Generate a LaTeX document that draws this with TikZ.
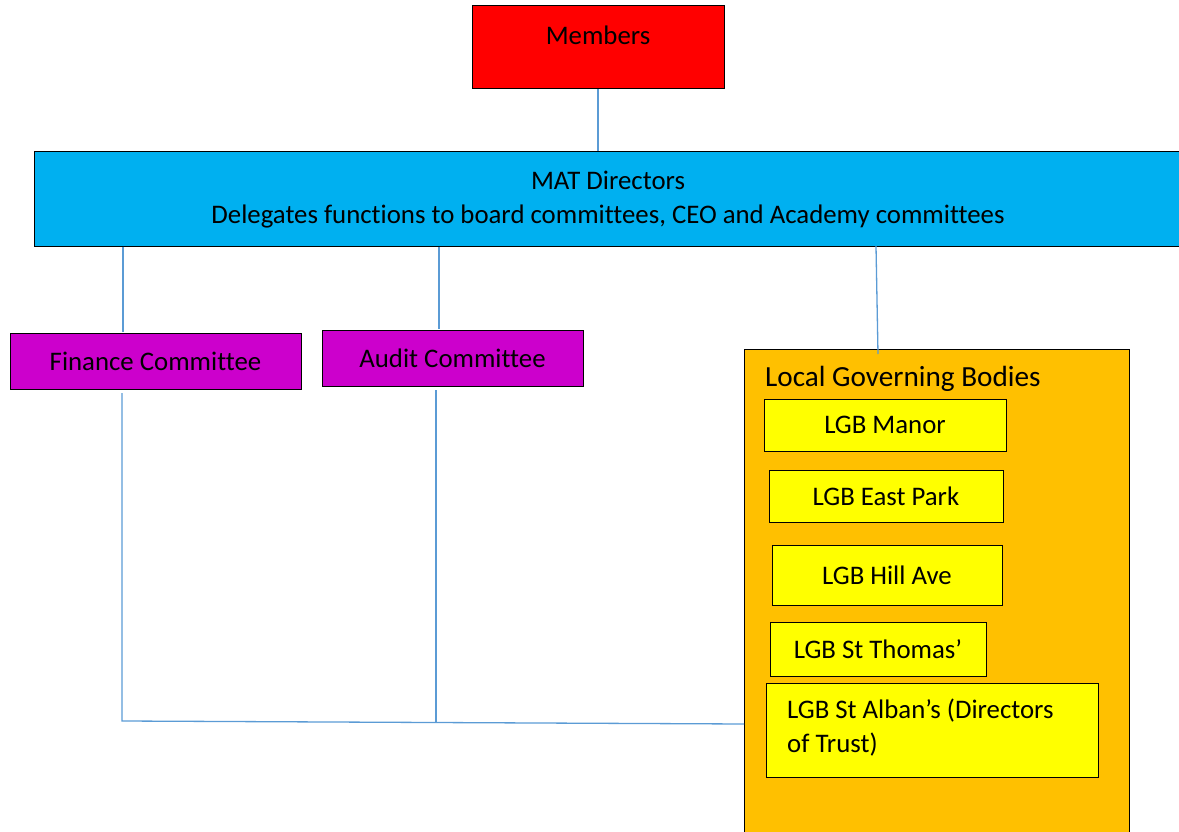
\documentclass[tikz,border=0pt]{standalone}
\usepackage{fontspec}
\setmainfont{Carlito}[Ligatures={NoCommon}]
\definecolor{memred}{HTML}{FF0000}
\definecolor{matblue}{HTML}{00B0F0}
\definecolor{compurple}{HTML}{CC00CC}
\definecolor{lgborange}{HTML}{FFC000}
\definecolor{lgbyellow}{HTML}{FFFF00}
\definecolor{linkblue}{HTML}{5B9BD5}
\tikzset{
  txt/.style={font=\fontsize{26.8}{34}\selectfont},
  box/.style={draw=black, line width=1pt, rectangle, inner sep=0pt, txt},
  link/.style={draw=linkblue, line width=1.3pt},
}
\begin{document}
\begin{tikzpicture}[x=1pt,y=-1pt]
\useasboundingbox (0,0) rectangle (1179,832);
% Members
\node[box, fill=memred, minimum width=252pt, minimum height=83pt] (members) at (598,47.5) {};
\node[txt] (memberstext) at (598,35) {Members};
% MAT Directors
\node[box, fill=matblue, minimum width=1150pt, minimum height=94pt] (mat) at (609,199) {};
\node[txt, align=center] (mattext) at (608,200) {MAT Directors\\Delegates functions to board committees, CEO and Academy committees};
% Committees
\node[box, fill=compurple, minimum width=291pt, minimum height=56pt] (finance) at (155.5,361) {Finance Committee};
\node[box, fill=compurple, minimum width=261pt, minimum height=56pt] (audit) at (452.5,358) {Audit Committee};
% LGB container
\node[box, fill=lgborange, minimum width=385pt, minimum height=500pt, anchor=north west, line width=0.8pt] (lgb) at (744,349) {};
\node[font=\fontsize{29.2}{34}\selectfont, anchor=west, inner sep=0pt] (lgbtitle) at (765,379) {Local Governing Bodies};
\node[box, fill=lgbyellow, minimum width=242pt, minimum height=52pt] (manor) at (885,425) {LGB Manor};
\node[box, fill=lgbyellow, minimum width=234pt, minimum height=52pt] (east) at (886,496) {LGB East Park};
\node[box, fill=lgbyellow, minimum width=230pt, minimum height=60pt] (hill) at (887,575) {LGB Hill Ave};
\node[box, fill=lgbyellow, minimum width=216pt, minimum height=54pt] (thomas) at (878,649) {LGB St Thomas’};
\node[box, fill=lgbyellow, minimum width=332pt, minimum height=94pt] (alban) at (932,730) {};
\node[txt, align=left, anchor=north west, inner sep=0pt] (albantext) at (787,699) {LGB St Alban’s (Directors\\of Trust)};
% connectors
\coordinate (fintop) at (123,332);
\coordinate (audtop) at (439,329);
\coordinate (lgbtop) at (878,354);
\coordinate (finbot) at (122,393);
\coordinate (audbot) at (436,390);
\coordinate (fincorner) at (122,721);
\coordinate (audjoin) at (436,722);
\coordinate (lgbleft) at (744,724);
\draw[link] (members.south) -- (mat.north -| members.south);
\draw[link] (mat.south -| fintop) -- (fintop);
\draw[link] (mat.south -| audtop) -- (audtop);
\draw[link] (876,246) -- (lgbtop);
\draw[link] (finbot) -- (fincorner) -- (lgbleft);
\draw[link] (audbot) -- (audjoin);
\end{tikzpicture}
\end{document}
